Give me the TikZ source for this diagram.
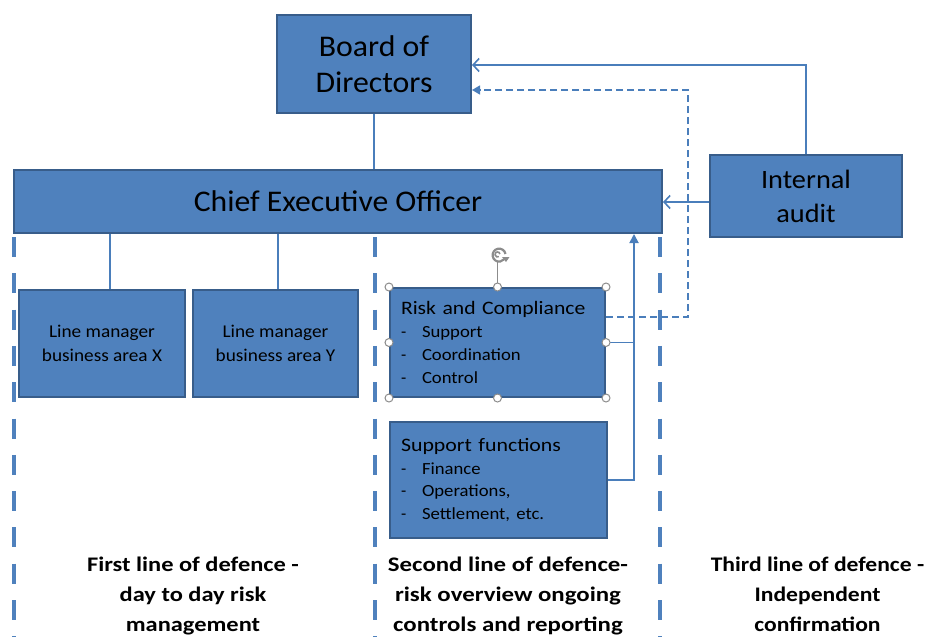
\documentclass[tikz,border=0pt]{standalone}
\usepackage{fontspec}
\setmainfont{Carlito}
\usetikzlibrary{arrows.meta,calc}
\definecolor{boxfill}{HTML}{4F81BD}
\definecolor{boxline}{HTML}{385D8A}
\definecolor{conn}{HTML}{4A7EBB}
\definecolor{handlegray}{HTML}{8C8C8C}
\newcommand\xsc[2]{\scalebox{#1}[1]{#2}}
\begin{document}
\begin{tikzpicture}[x=1pt,y=-1pt,
  orgbox/.style={draw=boxline, line width=2pt, fill=boxfill, inner sep=0pt, align=center, text=black},
  listbox/.style={orgbox, align=left, inner xsep=11pt, font=\fontsize{17}{22.7}\selectfont},
  conline/.style={draw=conn, line width=1.8pt},
  openarrow/.style={conline, -{Straight Barb[length=6pt,width=13pt,line width=1.6pt]}},
  dashconn/.style={draw=conn, line width=1.4pt, dash pattern=on 7pt off 4pt, -{Triangle[length=8pt,width=9pt]}},
  sepline/.style={draw=boxfill, line width=4pt, dash pattern=on 20pt off 16.3pt},
  sellabel/.style={align=center, anchor=north, inner sep=0pt, font=\bfseries\fontsize{20.7}{30}\selectfont},
  selhandle/.style={draw=handlegray, fill=white, line width=1pt, circle, inner sep=0pt, minimum size=8pt}
]
\useasboundingbox (0,0) rectangle (928,637);

% separators
\draw[sepline] (14,237) -- (14,637);
\draw[sepline] (375,237) -- (375,637);
\draw[sepline] (660,237) -- (660,637);

% boxes
\node[orgbox, minimum width=194pt, minimum height=98pt, font=\fontsize{30}{36}\selectfont] (board) at (374,64) {\xsc{1.06}{Board of}\\\xsc{1.06}{Directors}};
\node[orgbox, minimum width=648pt, minimum height=63pt, font=\fontsize{30}{35}\selectfont] (ceo) at (338,201.5) {\xsc{1.055}{Chief Executive Officer}};
\node[orgbox, minimum width=192pt, minimum height=82pt, font=\fontsize{26.5}{34}\selectfont] (ia) at (806,196) {\xsc{1.07}{Internal}\\\xsc{1.07}{audit}};
\node[orgbox, minimum width=166pt, minimum height=107pt, font=\fontsize{18}{24}\selectfont] (lmx) at (102,343.5) {\xsc{1.07}{Line manager}\\\xsc{1.07}{business area X}};
\node[orgbox, minimum width=165pt, minimum height=107pt, font=\fontsize{18}{24}\selectfont] (lmy) at (275.5,343.5) {\xsc{1.07}{Line manager}\\\xsc{1.07}{business area Y}};
\node[listbox, minimum width=215pt, minimum height=109pt, text width=193pt] (rc) at (497.5,342.5)
  {{\fontsize{19}{22.7}\selectfont\xsc{1.14}{Risk and Compliance}}\\
   \makebox[21pt][l]{-}\xsc{1.1}{Support}\\
   \makebox[21pt][l]{-}\xsc{1.1}{Coordination}\\
   \makebox[21pt][l]{-}\xsc{1.1}{Control}};
\node[listbox, minimum width=217pt, minimum height=116pt, text width=195pt] (sf) at (498.5,480)
  {{\fontsize{19}{22.7}\selectfont\xsc{1.15}{Support functions}}\\
   \makebox[21pt][l]{-}\xsc{1.1}{Finance}\\
   \makebox[21pt][l]{-}\xsc{1.1}{Operations,}\\
   \makebox[21pt][l]{-}\xsc{1.1}{Settlement, etc.}};

% connectors
\draw[conline] (board.south) -- (board.south |- ceo.north);
\coordinate (lmxtop) at ($(lmx.north)+(8,0)$);
\coordinate (lmytop) at ($(lmy.north)+(2.5,0)$);
\draw[conline] (lmxtop) -- (lmxtop |- ceo.south);
\draw[conline] (lmytop) -- (lmytop |- ceo.south);
\coordinate (boardin) at ($(board.east)+(0,1)$);
\draw[openarrow] (ia.north) |- (boardin);
\coordinate (iaout) at ($(ia.west)+(0,6)$);
\draw[openarrow] (iaout) -- (iaout -| ceo.east);
\coordinate (dcorner) at (688,90);
\coordinate (rcout) at ($(rc.north east)+(0,30)$);
\draw[dashconn] (rcout) -| (dcorner) -- (dcorner -| board.east);
\coordinate (vx) at (634,0);
\draw[conline] (rc.east) -- (rc.east -| vx);
\draw[conline, -{Triangle[length=9pt,width=9pt]}] (sf.east) -| (vx |- ceo.south);

% selection handles
\draw[draw=handlegray, line width=1pt] (rc.north) -- ($(rc.north)+(0,-25)$);
\foreach \a in {north west,north,north east,west,east,south west,south,south east}
  \node[selhandle] at (rc.\a) {};
\draw[draw=handlegray, line width=2.2pt] ($(rc.north)+(8,-33)$) arc[start angle=10, end angle=320, radius=6.5pt];
\draw[draw=handlegray, line width=1.6pt] ($(rc.north)+(2.5,-33)$) arc[start angle=10, end angle=300, radius=2.5pt];
\fill[handlegray] ($(rc.north)+(4.5,-30)$) -- ($(rc.north)+(12,-30)$) -- ($(rc.north)+(8.5,-25)$) -- cycle;

% labels
\node[sellabel] (l1) at (193,556.5) {\xsc{1.18}{First line of defence -}\\\xsc{1.18}{day to day risk}\\\xsc{1.18}{management}};
\node[sellabel] (l2) at (508,556.5) {\xsc{1.2}{Second line of defence-}\\\xsc{1.2}{risk overview ongoing}\\\xsc{1.2}{controls and reporting}};
\node[sellabel] (l3) at (817.5,556.5) {\xsc{1.14}{Third line of defence -}\\\xsc{1.14}{Independent}\\\xsc{1.14}{confirmation}};
\end{tikzpicture}
\end{document}
